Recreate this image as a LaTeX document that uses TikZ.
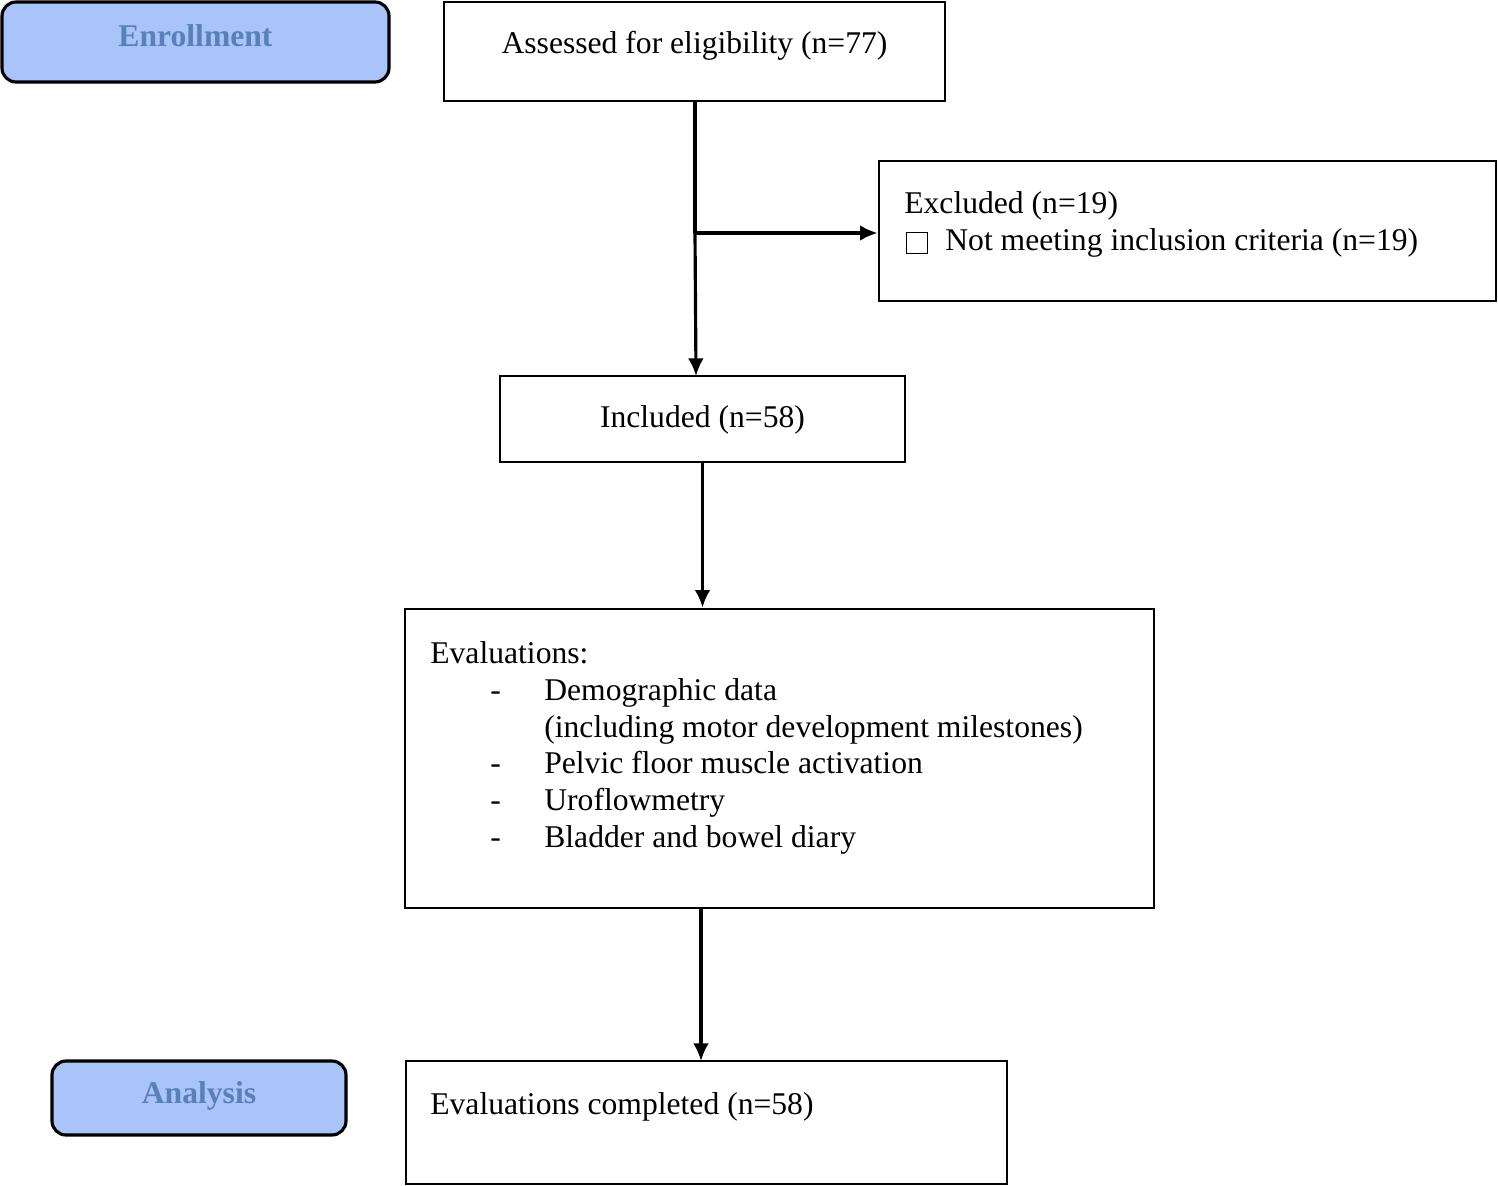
\documentclass[tikz,border=0pt]{standalone}
\usepackage{fontspec}
\setmainfont{Liberation Serif}
\usetikzlibrary{arrows.meta}
\definecolor{tagfill}{HTML}{A8C4F8}
\definecolor{tagtext}{HTML}{5A80B8}
\tikzset{
  box/.style={draw, line width=1.6pt, inner sep=0pt},
  tag/.style={draw, line width=1.8pt, rounded corners=8pt, fill=tagfill, inner sep=0pt,
    font=\bfseries\color{tagtext}},
  txt/.style={inner sep=0pt, anchor=base west, align=left},
  flow/.style={line width=1.8pt, -{Latex[length=10pt,width=9pt]}}
}
\newcommand{\itm}{\hspace*{1.2cm}\makebox[1.08cm][l]{-}}
\begin{document}
\begin{tikzpicture}[x=0.02cm, y=-0.02cm]
  \fontsize{18}{21}\selectfont
  \useasboundingbox (0,0) rectangle (1498,1186);

  \node[tag, minimum width=387*0.02cm, minimum height=80*0.02cm] (enroll) at (195.5,42) {};
  \node[inner sep=0pt, font=\bfseries\color{tagtext}] at (195.5,36) {Enrollment};
  \node[tag, minimum width=294*0.02cm, minimum height=74*0.02cm] (analysis) at (199,1098) {};
  \node[inner sep=0pt, font=\bfseries\color{tagtext}] at (199,1096) {Analysis};

  \node[box, minimum width=501*0.02cm, minimum height=99*0.02cm] (assess) at (694.5,51.5) {};
  \node[inner sep=0pt] at (694.5,46) {Assessed for eligibility (n=77)};

  \node[box, minimum width=617*0.02cm, minimum height=140*0.02cm] (excl) at (1187.5,231) {};
  \node[txt] at (904,214) {Excluded (n=19)};
  \node[draw, line width=0.6pt, minimum size=12pt, inner sep=0pt] (sq) at (917,243) {};
  \node[txt] at (945,250) {Not meeting inclusion criteria (n=19)};

  \node[box, minimum width=405*0.02cm, minimum height=86*0.02cm] (incl) at (702.5,419) {};
  \node[inner sep=0pt] at (702.5,420) {Included (n=58)};

  \node[box, minimum width=749*0.02cm, minimum height=299*0.02cm] (eval) at (779.5,758.5) {};
  \node[inner sep=0pt, anchor=north west, align=left] at (430,641) {Evaluations:\\
    \itm Demographic data\\
    \hspace*{2.28cm}(including motor development milestones)\\
    \itm Pelvic floor muscle activation\\
    \itm Uroflowmetry\\
    \itm Bladder and bowel diary};

  \node[box, minimum width=601*0.02cm, minimum height=123*0.02cm] (done) at (706.5,1122.5) {};
  \node[txt] at (430,1114) {Evaluations completed (n=58)};

  \coordinate (split) at (695,233);
  \draw[line width=1.8pt] (695,101) -- (split);
  \draw[flow] (split) -- (696,376);
  \draw[flow] (split) -- (excl.west |- split);
  \draw[flow] (incl.south) -- (incl.south |- eval.north);
  \draw[flow] (701,908) -- (701,1061);
\end{tikzpicture}
\end{document}
